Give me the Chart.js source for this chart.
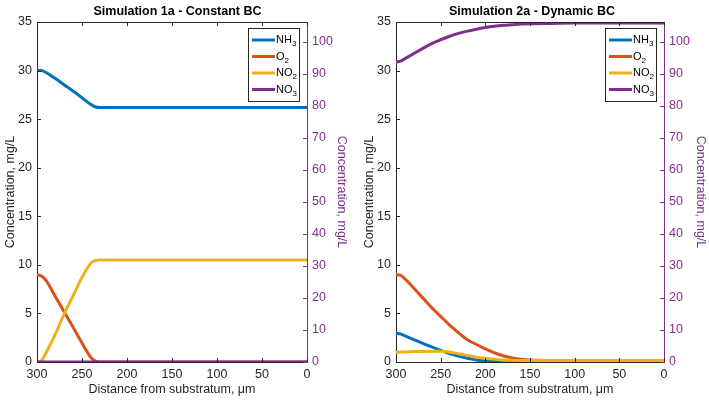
<!DOCTYPE html>
<html>
<head>
<meta charset="utf-8">
<script src="https://cdn.jsdelivr.net/npm/chart.js@4/dist/chart.umd.min.js"></script>
<style>
body{margin:0;background:#fff;}
#wrap{position:relative;width:709px;height:405px;}
canvas{position:absolute;top:0;}
</style>
</head>
<body>
<div id="wrap">
<canvas id="sim1" width="355" height="405" style="left:0"></canvas>
<canvas id="sim2" width="354" height="405" style="left:355px"></canvas>
</div>
<script>
// distance from substratum (um), shared by every series
const distance=[300,295,290,280,270,260,250,240,235,230,220,210,200,190,180,170,160,150,125,100,75,50,25,0]

const labels=["NH3","O2","NO2","NO3"]
const colors=["#0072BD","#D95319","#EDB120","#7E2F8E"]

// Simulation 1a - Constant BC (mg/L, NO3 on right axis)
const sim1Nh3=[30,30,29.8,29.2,28.55,27.9,27.2,26.5,26.25,26.2,26.2,26.2,26.2,26.2,26.2,26.2,26.2,26.2,26.2,26.2,26.2,26.2,26.2,26.2]
const sim1O2=[9,8.85,8.4,6.8,5.2,3.6,1.95,0.45,0.08,0,0,0,0,0,0,0,0,0,0,0,0,0,0,0]
const sim1No2=[0,0.15,0.95,2.8,4.9,6.8,8.7,10.2,10.45,10.5,10.5,10.5,10.5,10.5,10.5,10.5,10.5,10.5,10.5,10.5,10.5,10.5,10.5,10.5]
const sim1No3=[0,0,0,0,0,0,0,0,0,0,0,0,0,0,0,0,0,0,0,0,0,0,0,0]

// Simulation 2a - Dynamic BC
const sim2Nh3=[2.95,2.9,2.7,2.3,1.92,1.55,1.2,0.88,0.74,0.6,0.38,0.2,0.1,0.04,0.01,0,0,0,0,0,0,0,0,0]
const sim2O2=[9,8.95,8.55,7.6,6.6,5.6,4.7,3.8,3.4,3.0,2.3,1.8,1.35,0.95,0.65,0.42,0.28,0.2,0.15,0.15,0.15,0.15,0.15,0.15]
const sim2No2=[1.0,1.02,1.04,1.07,1.09,1.1,1.1,1.02,0.94,0.85,0.68,0.5,0.38,0.28,0.2,0.17,0.15,0.15,0.15,0.15,0.15,0.15,0.15,0.15]
const sim2No3=[93.8,94,94.8,96.4,98.0,99.5,100.7,101.8,102.3,102.7,103.4,104,104.5,104.9,105.2,105.4,105.6,105.7,105.8,105.9,105.9,105.9,105.9,105.9]

const xTicks=[0,50,100,150,200,250,300]
const leftTicks=[0,5,10,15,20,25,30,35]
const rightTicks=[0,10,20,30,40,50,60,70,80,90,100]

const axisColor="#262626"
const purple="#7E2F8E"
const fontFamily="'Liberation Sans', Arial, Helvetica, sans-serif"

// ticks pointing inwards and the top edge of the box, like matlab
const boxTicks={
    id:"boxTicks",
    afterDatasetsDraw(chart){
        const ctx=chart.ctx
        const a=chart.chartArea
        const len=4
        ctx.save()
        ctx.lineWidth=1
        ctx.strokeStyle=axisColor
        ctx.beginPath()
        ctx.moveTo(a.left,a.top+0.5)
        ctx.lineTo(a.right,a.top+0.5)
        for(let v of xTicks){
            const x=Math.round(chart.scales.x.getPixelForValue(v))+0.5
            ctx.moveTo(x,a.bottom);ctx.lineTo(x,a.bottom-len)
            ctx.moveTo(x,a.top);ctx.lineTo(x,a.top+len)
        }
        for(let v of leftTicks){
            const y=Math.round(chart.scales.y.getPixelForValue(v))+0.5
            ctx.moveTo(a.left,y);ctx.lineTo(a.left+len,y)
        }
        ctx.stroke()
        ctx.strokeStyle=purple
        ctx.beginPath()
        for(let v of rightTicks){
            const y=Math.round(chart.scales.y1.getPixelForValue(v))+0.5
            ctx.moveTo(a.right,y);ctx.lineTo(a.right-len,y)
        }
        ctx.stroke()
        ctx.restore()
    }
}

// legend box in the top right corner, digits drawn as subscripts
const boxLegend={
    id:"boxLegend",
    afterDraw(chart){
        const ctx=chart.ctx
        const a=chart.chartArea
        const w=51,h=73
        const left=a.right-8-w, top=a.top+6
        ctx.save()
        ctx.fillStyle="#fff"
        ctx.fillRect(left,top,w,h)
        ctx.strokeStyle=axisColor
        ctx.lineWidth=1
        ctx.strokeRect(left+0.5,top+0.5,w,h)
        chart.data.datasets.forEach((ds,i)=>{
            const y=top+12+i*16.5
            ctx.strokeStyle=ds.borderColor
            ctx.lineWidth=3
            ctx.beginPath()
            ctx.moveTo(left+4,y);ctx.lineTo(left+27,y)
            ctx.stroke()
            const m=ds.label.match(/^([A-Z]+)(\d*)$/)
            ctx.fillStyle="#000"
            ctx.textBaseline="middle"
            ctx.font="11px "+fontFamily
            ctx.fillText(m[1],left+28,y)
            const tw=ctx.measureText(m[1]).width
            ctx.font="8px "+fontFamily
            ctx.fillText(m[2],left+28+tw,y+4)
        })
        ctx.restore()
    }
}

function makeChart(id,title,values,dims){
    const datasets=values.map((vals,i)=>({
        label:labels[i],
        data:distance.map((d,k)=>({x:d,y:vals[k]})),
        borderColor:colors[i],
        backgroundColor:colors[i],
        borderWidth:3,
        pointRadius:0,
        cubicInterpolationMode:"monotone",
        yAxisID:i==3?"y1":"y",
        order:3-i
    }))
    new Chart(document.getElementById(id),{
        type:"line",
        data:{datasets:datasets},
        plugins:[boxTicks,boxLegend],
        options:{
            responsive:false,
            animation:false,
            layout:{padding:0},
            plugins:{
                legend:{display:false},
                tooltip:{enabled:false},
                title:{
                    display:true,
                    text:title,
                    color:"#000",
                    font:{family:fontFamily,size:12.5,weight:"bold"},
                    padding:{top:4,bottom:3}
                }
            },
            scales:{
                x:{
                    type:"linear",
                    reverse:true,
                    min:0,max:300,
                    grid:{display:false,drawTicks:false},
                    border:{color:axisColor},
                    ticks:{stepSize:50,color:axisColor,padding:5,maxRotation:0,font:{family:fontFamily,size:12.5}},
                    title:{display:true,text:"Distance from substratum, μm",color:axisColor,padding:{top:2,bottom:8},font:{family:fontFamily,size:12.5}},
                    afterFit:s=>{s.height=43}
                },
                y:{
                    position:"left",
                    min:0,max:35,
                    grid:{display:false,drawTicks:false},
                    border:{color:axisColor},
                    ticks:{stepSize:5,color:axisColor,padding:5,font:{family:fontFamily,size:12.5}},
                    title:{display:true,text:"Concentration, mg/L",color:axisColor,padding:{top:dims.leftPad,bottom:0},font:{family:fontFamily,size:12.5}},
                    afterFit:s=>{s.width=dims.leftW}
                },
                y1:{
                    position:"right",
                    min:0,max:106.25,
                    grid:{display:false,drawTicks:false},
                    border:{color:purple},
                    afterBuildTicks:s=>{s.ticks=rightTicks.map(v=>({value:v}))},
                    ticks:{color:purple,padding:5,font:{family:fontFamily,size:12.5}},
                    title:{display:true,text:"Concentration, mg/L",color:purple,padding:{top:dims.rightPad,bottom:0},font:{family:fontFamily,size:12.5}},
                    afterFit:s=>{s.width=dims.rightW}
                }
            }
        }
    })
}

makeChart("sim1","Simulation 1a - Constant BC",[sim1Nh3,sim1O2,sim1No2,sim1No3],{leftW:37,rightW:48,leftPad:3,rightPad:6})
makeChart("sim2","Simulation 2a - Dynamic BC",[sim2Nh3,sim2O2,sim2No2,sim2No3],{leftW:41,rightW:45,leftPad:7,rightPad:1})
</script>
</body>
</html>
